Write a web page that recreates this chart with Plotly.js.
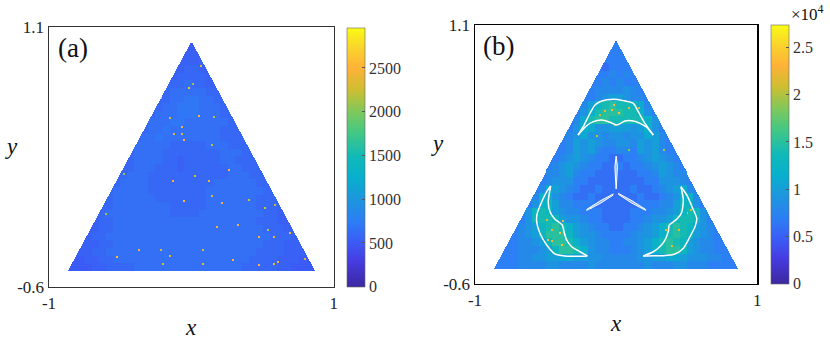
<!DOCTYPE html>
<html><head><meta charset="utf-8">
<script src="https://cdn.plot.ly/plotly-3.0.1.min.js"></script>
<style>html,body{margin:0;padding:0;background:#fff}</style></head>
<body><div id="chart" style="width:830px;height:340px"></div>
<script>
// Hand-estimated local levels (coarse cells, 0.05 x 0.05), top row first.
// The pixel-level noise of the reference cannot be read exactly, so only local means are kept.
// Panel (a): level d = 300 + 50*d counts.
const rowsA = ["44","5555","5556","556655","566665","66676655","6677777665","6677887766",
"667788877766","677788877766","67778877777766","67787777777666","6778777777776666",
"677777666667776666","677776666666677766","66777766566666776666","66777666566666677666",
"6677766666666666777666","6777766666666677777766","677777666666667777777766",
"66777777666666677777776666","66777777776666677777776665","5677777777766667777777776655",
"5667777777777777777777766655","556677777777777777777777766655","55667777777777777777777777766655",
"55566777777777777777777777666555","5556677777777777777777777766665555",
"4455667777777777777777777666655544","444455666677777777777777766666554444"];
// Panel (b): each base-36 character = thousands of counts.
const rowsB = ["77","6776","7777","767777","778787","77878777","7788889877","7789aa9887",
"78adefeedb87","79cefffeec97","78beffeeeeec97","79cb99aaa9ac97","789b99899899ba87",
"778a9a988998a9a877","778a9a877887a9a877","7789a9877667789a9877","789a987766767789a987",
"7889a877666666778a9887","7899977666666667799987","78ba9876676666766789ab87",
"78cc987667666666766789cc87","79cda8877766666677788adc97","89deda9887776666777889aded98",
"79deeda99877666677899adeed97","789adefeca9877667789acefeda987","7789adfffda9987777899acefeda9877",
"77889adffeca98877889acefeda98877","7778889adffec98877789aceffda988777",
"7778899aabbaa998888899aabba9998877","777788889988889888888898889988877777"];
// Individual bright cells.
const hotAx = [.061,.007,-.021,-.215,-.150,.049,.150,-.068,-.122,-.068,-.052,.138,.260,.019,-.131,.119,-.473,-.052,.138,.206,.400,.511,.583,-.604,.171,.321,.529,.471,.571,.686,-.372,-.213,.077,-.525,-.150,.283,.792,-.201,.077,.471,.571,.600];
const hotAy = [.842,.720,.694,.628,.499,.514,.508,.438,.394,.394,.353,.324,.158,.121,.088,.088,.132,-.047,-.014,-.058,-.038,-.091,-.069,-.130,-.218,-.202,-.235,-.279,-.279,-.253,-.366,-.366,-.364,-.416,-.408,-.432,-.423,-.460,-.460,-.467,-.460,-.449];
const hotAz = [2300,2100,2600,2200,2300,2500,2200,2400,2300,2300,2500,2200,2500,2300,2500,2400,2100,2600,2300,2500,2300,2300,2200,2100,2400,2400,2200,2500,2400,2400,2400,2300,2300,2600,2300,2500,2300,2300,2400,2500,2400,2500];
const hotBx = [-.032,.015,-.079,-.020,-.114,.086,.157,-.481,-.457,-.386,-.492,-.374,-.457,.393,.441,.500,.535,.346,-.178,-.138,-.008,.334,.086,-.398];
const hotBy = [.542,.520,.531,.574,.509,.552,.552,-.313,-.324,-.345,-.181,-.192,-.247,-.356,-.247,-.137,-.115,-.247,-.105,.366,.443,.279,.279,-.269];
const hotBz = [23000,24000,22000,23000,21000,22000,21000,24000,23000,24000,22000,23000,22000,22000,22000,22000,21000,22000,23000,21000,20000,20000,19000,24000];
// White curves of panel (b)
const topOuterX=[-.270,-.233,-.185,-.150,-.102,-.020,.051,.122,.157,.204,.263];
const topOuterY=[.377,.432,.520,.574,.601,.612,.603,.585,.530,.454,.377];
const topInnerX=[.263,.216,.169,.122,.063,.004,-.044,-.102,-.162,-.209,-.270];
const topInnerY=[.377,.428,.454,.469,.469,.443,.461,.476,.465,.438,.377];
const leftOuterX=[-.464,-.492,-.527,-.559,-.563,-.540,-.492,-.433,-.362,-.280,-.204];
const leftOuterY=[.042,.005,-.061,-.137,-.193,-.269,-.346,-.405,-.418,-.420,-.418];
const leftInnerX=[-.204,-.256,-.315,-.350,-.367,-.382,-.433,-.469,-.481,-.464];
const leftInnerY=[-.418,-.390,-.357,-.313,-.269,-.214,-.177,-.127,-.061,.042];
const rightOuterX=[.459,.500,.542,.571,.559,.523,.476,.417,.334,.263,.192];
const rightOuterY=[.037,-.017,-.104,-.170,-.225,-.291,-.367,-.405,-.416,-.416,-.418];
const rightInnerX=[.192,.263,.316,.346,.369,.377,.429,.464,.476,.459];
const rightInnerY=[-.418,-.390,-.350,-.313,-.258,-.214,-.177,-.133,-.050,.037];
const spokeUpX=[0,.009,.004,0,-.004,-.009,0];
const spokeUpY=[.239,.169,.081,.022,.081,.169,.239];
const spokeLeftX=[-.020,-.114,-.207,-.209,-.114,-.020];
const spokeLeftY=[-.010,-.0565,-.111,-.118,-.073,-.017];
const spokeRightX=[.015,.112,.209,.209,.112,.015];
const spokeRightY=[-.006,-.055,-.112,-.118,-.071,-.012];
const ticksA=[0,500,1000,1500,2000,2500];
const ticksB=[0,5000,10000,15000,20000,25000];
const ticksBtext=["0","0.5","1","1.5","2","2.5"];
const maxA=2960,maxB=27400;

const parula=[[0,'rgb(60,40,160)'],[.1,'rgb(70,60,225)'],[.17,'rgb(60,90,245)'],[.25,'rgb(45,125,245)'],[.34,'rgb(28,150,222)'],[.42,'rgb(8,175,205)'],[.5,'rgb(15,185,185)'],[.6,'rgb(70,200,130)'],[.68,'rgb(130,200,90)'],[.76,'rgb(205,190,50)'],[.845,'rgb(255,178,55)'],[.92,'rgb(250,210,45)'],[1,'rgb(249,251,21)']];
const FONT='Liberation Serif';
const NX=284,NY=259,DX=2/NX,DY=1.7/NY;
const xs=Array.from({length:NX},(_,i)=>-1+(i+.5)*DX);
const ys=Array.from({length:NY},(_,j)=>-.6+(j+.5)*DY);
function build(rows,level,hx,hy,hz){
  const z=ys.map(y=>xs.map(x=>{
    if(y<-.5||Math.abs(x)>(1-y)/Math.sqrt(3))return null;
    const k=Math.min(rows.length-1,Math.floor((1-y)/.05));
    const r=rows[k];const pad=(36-r.length)/2;
    const c=Math.max(0,Math.min(r.length-1,Math.floor((x+.9)/.05)-Math.floor(pad)));
    return level(parseInt(r[c],36));
  }));
  hx.forEach((x,i)=>{
    const a=Math.floor((x+1)/DX),b=Math.floor((hy[i]+.6)/DY);
    [[0,0],[1,0],[0,1],[1,1]].forEach(([p,q])=>{if(z[b+q]&&z[b+q][a+p]!=null)z[b+q][a+p]=hz[i];});
  });
  return z;
}
const line=(x,y,extra)=>Object.assign({type:'scatter',mode:'lines',x,y,xaxis:'x2',yaxis:'y2',hoverinfo:'skip',showlegend:false,line:{color:'#fff',width:1.5}},extra||{});
const sm={line:{color:'#fff',width:1.5,shape:'spline',smoothing:.6}};
const fill={fill:'toself',fillcolor:'rgba(205,235,240,.55)',line:{color:'#fff',width:1}};
const cbCommon={thicknessmode:'pixels',lenmode:'pixels',xanchor:'left',yanchor:'bottom',xpad:0,ypad:0,ticks:'inside',ticklen:3,tickcolor:'#555',tickwidth:1,outlinecolor:'#666',outlinewidth:.6,tickfont:{family:FONT,size:16,color:'#333'},tickmode:'array'};
const data=[
 {type:'heatmap',x:xs,y:ys,z:build(rowsA,d=>300+50*d,hotAx,hotAy,hotAz),zmin:0,zmax:maxA,colorscale:parula,hoverongaps:false,
  colorbar:Object.assign({},cbCommon,{x:347/830,y:1-286.7/340,len:259.4,thickness:18.3,tickvals:ticksA})},
 {type:'heatmap',x:xs,y:ys,z:build(rowsB,d=>1000*d,hotBx,hotBy,hotBz),zmin:0,zmax:maxB,colorscale:parula,xaxis:'x2',yaxis:'y2',hoverongaps:false,
  colorbar:Object.assign({},cbCommon,{x:771/830,y:1-283.7/340,len:258.7,thickness:18,tickvals:ticksB,ticktext:ticksBtext})},
 line(topOuterX,topOuterY,sm),line(topInnerX,topInnerY,sm),
 line(leftOuterX,leftOuterY,sm),line(leftInnerX,leftInnerY,sm),
 line(rightOuterX,rightOuterY,sm),line(rightInnerX,rightInnerY,sm),
 line(spokeUpX,spokeUpY,fill),line(spokeLeftX,spokeLeftY,fill),line(spokeRightX,spokeRightY,fill)
];
const ax=(dom,anchor,color,vals,text,range)=>({domain:dom,anchor,range,tickmode:'array',tickvals:vals,ticktext:text,ticks:'',showgrid:false,zeroline:false,showline:true,mirror:true,linecolor:color,linewidth:1.5,tickfont:{family:FONT,size:17,color:'#222'}});
const ann=(px,py,text,size,extra)=>Object.assign({xref:'paper',yref:'paper',x:px/830,y:1-py/340,text,showarrow:false,xanchor:'center',yanchor:'middle',font:{family:FONT,size,color:'#111'}},extra||{});
const layout={width:830,height:340,margin:{l:0,r:0,t:0,b:0,autoexpand:false},paper_bgcolor:'#fff',plot_bgcolor:'#fff',showlegend:false,
 xaxis:ax([49/830,333.7/830],'y','#333',[-1,1],['-1','1'],[-1,1]),
 yaxis:ax([1-286.7/340,1-27.3/340],'x','#333',[-.6,1.1],['-0.6','1.1'],[-.6,1.1]),
 xaxis2:ax([475/830,757.3/830],'y2','#000',[-1,1],['-1','1'],[-1,1]),
 yaxis2:ax([1-283.7/340,1-25/340],'x2','#000',[-.6,1.1],['-0.6','1.1'],[-.6,1.1]),
 annotations:[
  ann(73,48,'(a)',27),ann(498,46,'(b)',27),
  ann(11,146,'<i>y</i>',23),ann(437,143,'<i>y</i>',23),
  ann(191,327,'<i>x</i>',23),ann(616,323,'<i>x</i>',23),
  ann(807,13,'×10<sup>4</sup>',17)
 ]};
Plotly.newPlot('chart',data,layout,{displayModeBar:false,staticPlot:true});
</script></body></html>
